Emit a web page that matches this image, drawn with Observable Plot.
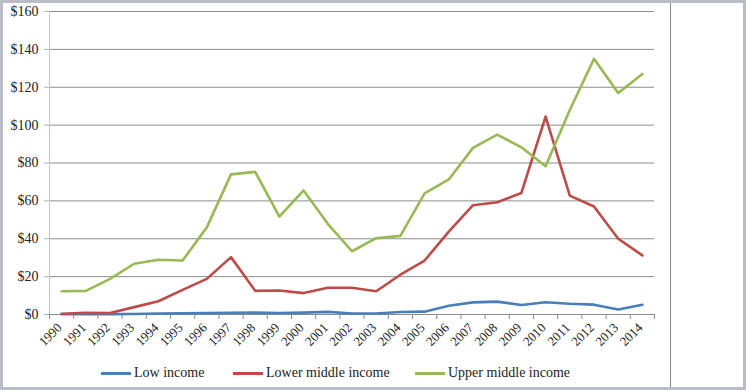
<!DOCTYPE html>
<html>
<head>
<meta charset="utf-8">
<script src="https://cdn.jsdelivr.net/npm/d3@7"></script>
<script src="https://cdn.jsdelivr.net/npm/@observablehq/plot@0.6"></script>
<style>
  body { margin: 0; background: #fff; }
  #wrap { position: relative; width: 746px; height: 390px; overflow: hidden; font-family: "Liberation Serif", "DejaVu Serif", serif; color: #222; }
  #border { position: absolute; left: 0; top: 0; width: 746px; height: 390px; box-sizing: border-box; border: 3px solid #b9bdc6; pointer-events: none; }
  #divider { position: absolute; left: 670px; top: 3px; width: 1px; height: 384px; background: #8a8a8a; }
  .leg { position: absolute; top: 364px; height: 18px; display: flex; align-items: center; font-size: 14px; white-space: nowrap; }
  .sw { width: 30px; height: 3px; margin-right: 3px; }
  #chart { position: absolute; left: 0; top: 0; }
</style>
</head>
<body>
<div id="wrap">
  <div id="chart"></div>
  <div id="divider"></div>
  <div id="legend"></div>
  <div id="border"></div>
</div>
<script>
const years = [1990,1991,1992,1993,1994,1995,1996,1997,1998,1999,2000,2001,2002,2003,2004,2005,2006,2007,2008,2009,2010,2011,2012,2013,2014];
const seriesNames = ["Low income", "Lower middle income", "Upper middle income"];
const seriesColors = ["#4a7ebb", "#be4b48", "#98b954"];
const lowIncome = [0.1,0.2,0.2,0.3,0.5,0.6,0.7,0.9,1.0,0.8,1.0,1.4,0.5,0.5,1.3,1.5,4.6,6.4,6.8,5.0,6.5,5.7,5.2,2.6,5.1];
const lowerMiddle = [0.4,0.9,0.8,3.9,7.0,13.0,18.8,30.3,12.5,12.7,11.3,14.1,14.1,12.3,21.0,28.5,43.8,57.7,59.3,64.2,104.5,62.8,57.0,40.0,31.2];
const upperMiddle = [12.3,12.5,18.8,26.8,28.9,28.5,46.0,74.0,75.3,51.7,65.5,47.9,33.4,40.3,41.5,64.0,71.3,88.0,95.0,88.3,78.3,108.0,135.0,117.0,127.0];
const yTicks = [0,20,40,60,80,100,120,140,160];

const seriesValues = [lowIncome, lowerMiddle, upperMiddle];
const rows = [];
seriesNames.forEach((name, i) => {
  years.forEach((yr, j) => rows.push({series: name, year: yr, value: seriesValues[i][j]}));
});
const firstYear = years[0], lastYear = years[years.length - 1];
const boundaries = years.map(y => y - 0.5).concat([lastYear + 0.5]);

const chart = Plot.plot({
  width: 746,
  height: 355,
  marginLeft: 49,
  marginRight: 92,
  marginTop: 11,
  marginBottom: 41,
  style: {fontFamily: "'Liberation Serif', 'DejaVu Serif', serif", color: "#222", background: "transparent"},
  x: {type: "linear", domain: [firstYear - 0.5, lastYear + 0.5], axis: null, label: null},
  y: {domain: [0, 160], axis: null, label: null},
  color: {domain: seriesNames, range: seriesColors},
  marks: [
    Plot.gridY(yTicks, {stroke: "#8c8c8c", strokeOpacity: 1}),
    Plot.ruleX([firstYear - 0.5], {stroke: "#c4c4c4"}),
    Plot.ruleY([0], {stroke: "#8c8c8c"}),
    Plot.axisY(yTicks, {label: null, tickSize: 5, tickPadding: 6, stroke: "#b0b0b0", tickFormat: d => "$" + d, fontSize: 14}),
    Plot.axisX(boundaries, {label: null, tickSize: 5, stroke: "#8c8c8c", tickFormat: () => ""}),
    Plot.axisX(years, {label: null, tickSize: 0, tickPadding: 11, dx: -2, tickRotate: -45, tickFormat: d => String(d), fontSize: 13}),
    Plot.line(rows, {x: "year", y: "value", z: "series", stroke: "series", strokeWidth: 2.6, curve: "linear"})
  ]
});
document.getElementById("chart").appendChild(chart);

const legendLefts = [101, 233, 415];
const legend = document.getElementById("legend");
seriesNames.forEach((name, i) => {
  const item = document.createElement("div");
  item.className = "leg";
  item.style.left = legendLefts[i] + "px";
  const sw = document.createElement("div");
  sw.className = "sw";
  sw.style.background = seriesColors[i];
  const t = document.createElement("span");
  t.textContent = name;
  item.appendChild(sw);
  item.appendChild(t);
  legend.appendChild(item);
});
</script>
</body>
</html>
